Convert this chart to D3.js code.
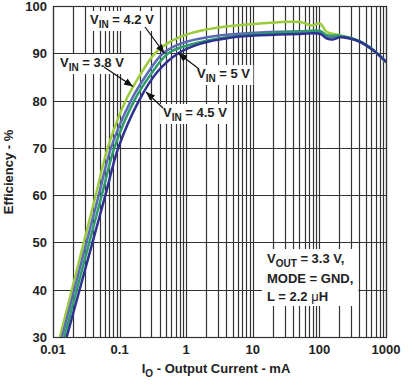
<!DOCTYPE html>
<html>
<head>
<meta charset="utf-8">
<script src="https://cdn.jsdelivr.net/npm/d3@7"></script>
<style>
  body { margin: 0; background: #fff; }
  svg { display: block; font-family: "Liberation Sans", Arial, sans-serif; font-weight: bold; }
</style>
</head>
<body>
<svg id="chart" width="414" height="386"></svg>
<script>
// output current (mA) vs efficiency (%), one array per input voltage
var vin38 = [[0.0127,30],[0.01923,40],[0.02901,50],[0.04391,60],[0.0663,70],[0.1235,80],[0.2024,85.4],[0.34,90],[0.571,92.4],[1.14,94.2],[2.9,95.4],[12.8,96.3],[51,96.6],[77,95.9],[102,96.3],[130,94.5],[204,93.8],[407,92.4],[684,90.3],[1000,88]];
var vin42 = [[0.01365,30],[0.02085,40],[0.03184,50],[0.04863,60],[0.0743,70],[0.148,80],[0.249,85.3],[0.449,90],[0.807,92],[2.28,93.5],[12.8,94.4],[51,94.6],[102,94.5],[130,93.4],[204,93.6],[407,92.5],[684,90.4],[1000,88.1]];
var vin45 = [[0.01478,30],[0.02277,40],[0.03508,50],[0.05404,60],[0.0833,70],[0.166,80],[0.286,85.3],[0.539,90],[1.14,91.8],[3.22,93.2],[12.8,94.1],[51,94.6],[102,94.7],[130,93.8],[204,93.7],[407,92.5],[684,90.4],[1000,88.2]];
var vin50 = [[0.01606,30],[0.02508,40],[0.03918,50],[0.0612,60],[0.0956,70],[0.1955,80],[0.365,86],[0.761,90],[1.61,92],[4.55,93.3],[12.8,93.8],[51,94.1],[102,94.1],[130,93.1],[160,92.9],[204,93.4],[288,93.1],[407,92.4],[684,90.3],[1000,88.2]];

var xTicks = [0.01, 0.1, 1, 10, 100, 1000];
var xTickLabels = ["0.01", "0.1", "1", "10", "100", "1000"];
var yTicks = [30, 40, 50, 60, 70, 80, 90, 100];

var series = [
  {data: vin38, color: "#9ccb3b"},
  {data: vin42, color: "#5a6bb4"},
  {data: vin45, color: "#2f9a6c"},
  {data: vin50, color: "#2e3192"}
];

var svg = d3.select("#chart"),
    margin = {top: 6, right: 28, bottom: 49, left: 53},
    width = 414 - margin.left - margin.right,
    height = 386 - margin.top - margin.bottom;

var x = d3.scaleLog().domain([0.01, 1000]).range([0, width]),
    y = d3.scaleLinear().domain([30, 100]).range([height, 0]);

var g = svg.append("g")
    .attr("transform", "translate(" + margin.left + "," + margin.top + ")");

// minor + major vertical grid
var vlines = [];
for (var d = 0.01; d < 1000; d *= 10) {
  for (var k = 1; k <= 9; k++) vlines.push(d * k);
}
vlines.push(1000);
g.append("g").selectAll("line").data(vlines).enter().append("line")
    .attr("x1", function(d) { return Math.round(x(d)) + 0.5; })
    .attr("x2", function(d) { return Math.round(x(d)) + 0.5; })
    .attr("y1", 0).attr("y2", height)
    .attr("stroke", "#333").attr("stroke-width", 1.2);

g.append("g").selectAll("line").data(yTicks).enter().append("line")
    .attr("x1", 0).attr("x2", width)
    .attr("y1", function(d) { return Math.round(y(d)) + 0.5; })
    .attr("y2", function(d) { return Math.round(y(d)) + 0.5; })
    .attr("stroke", "#333").attr("stroke-width", 1.2);

// tick labels
g.append("g").selectAll("text").data(yTicks).enter().append("text")
    .attr("x", -6).attr("y", function(d) { return y(d) + 5; })
    .attr("text-anchor", "end").attr("font-size", 13).attr("fill", "#222")
    .text(function(d) { return d; });

g.append("g").selectAll("text").data(xTicks).enter().append("text")
    .attr("x", function(d) { return x(d); }).attr("y", height + 17)
    .attr("text-anchor", "middle").attr("font-size", 13).attr("fill", "#222")
    .text(function(d, i) { return xTickLabels[i]; });

// axis titles
svg.append("text")
    .attr("transform", "translate(13,172) rotate(-90)")
    .attr("text-anchor", "middle").attr("font-size", 13).attr("fill", "#222")
    .text("Efficiency - %");

var xt = svg.append("text")
    .attr("x", 216).attr("y", 373)
    .attr("text-anchor", "middle").attr("font-size", 13).attr("fill", "#222");
xt.append("tspan").text("I");
xt.append("tspan").attr("font-size", 10).attr("dy", 4).text("O");
xt.append("tspan").attr("dy", -4).text(" - Output Current - mA");

// labels with white backing
function vinLabel(tx, ty, val) {
  var grp = g.append("g");
  var bg = grp.append("rect").attr("fill", "#fff");
  var t = grp.append("text").attr("x", tx).attr("y", ty)
      .attr("font-size", 13).attr("fill", "#222");
  t.append("tspan").text("V");
  t.append("tspan").attr("font-size", 10).attr("dy", 4).text("IN");
  t.append("tspan").attr("dy", -4).text(" = " + val + " V");
  var b = t.node().getBBox();
  bg.attr("x", b.x - 3).attr("y", b.y - 1).attr("width", b.width + 6).attr("height", b.height + 2);
}
vinLabel(90 - margin.left, 24 - margin.top, "4.2");
vinLabel(60 - margin.left, 67 - margin.top, "3.8");
vinLabel(197 - margin.left, 78 - margin.top, "5");
vinLabel(163 - margin.left, 117 - margin.top, "4.5");

// conditions box
var cg = g.append("g");
var cbg = cg.append("rect").attr("fill", "#fff");
var ct = cg.append("text").attr("font-size", 13).attr("fill", "#222");
var l1 = ct.append("tspan").attr("x", 267 - margin.left).attr("y", 263 - margin.top);
l1.append("tspan").text("V");
l1.append("tspan").attr("font-size", 10).attr("dy", 4).text("OUT");
l1.append("tspan").attr("dy", -4).text(" = 3.3 V,");
ct.append("tspan").attr("x", 267 - margin.left).attr("y", 283 - margin.top).text("MODE = GND,");
var l3 = ct.append("tspan").attr("x", 267 - margin.left).attr("y", 301 - margin.top);
l3.append("tspan").text("L = 2.2 ");
l3.append("tspan").attr("font-weight", "normal").text("\u03bc");
l3.append("tspan").text("H");
var cb = ct.node().getBBox();
cbg.attr("x", cb.x - 5).attr("y", cb.y - 2).attr("width", cb.width + 10).attr("height", cb.height + 4);

// curves
var line = d3.line()
    .x(function(d) { return x(d[0]); })
    .y(function(d) { return y(d[1]); })
    .curve(d3.curveCatmullRom.alpha(0.5));

g.append("defs").append("clipPath").attr("id", "clip")
  .append("rect").attr("width", width).attr("height", height);

g.append("g").attr("clip-path", "url(#clip)").selectAll("path").data(series).enter().append("path")
    .attr("d", function(s) { return line(s.data); })
    .attr("fill", "none")
    .attr("stroke", function(s) { return s.color; })
    .attr("stroke-width", 2.5);

// arrows (tail in label area, head on curve)
var defs = svg.append("defs");
defs.append("marker").attr("id", "ah").attr("viewBox", "0 0 10 10")
    .attr("refX", 10).attr("refY", 5).attr("markerWidth", 9).attr("markerHeight", 9)
    .attr("markerUnits", "userSpaceOnUse").attr("orient", "auto")
  .append("path").attr("d", "M0,1 L10,5 L0,9 Z").attr("fill", "#111");

var arrows = [
  [145, 27, 0.47, 90],
  [104, 67, 0.159, 83],
  [199, 69, 0.761, 90],
  [163, 108, 0.25, 81.8]
];
g.append("g").selectAll("line").data(arrows).enter().append("line")
    .attr("x1", function(a) { return a[0] - margin.left; })
    .attr("y1", function(a) { return a[1] - margin.top; })
    .attr("x2", function(a) { return x(a[2]); })
    .attr("y2", function(a) { return y(a[3]); })
    .attr("stroke", "#111").attr("stroke-width", 1.2)
    .attr("marker-end", "url(#ah)");

// frame
g.append("rect").attr("x", 0.5).attr("y", 0.5).attr("width", width).attr("height", height)
    .attr("fill", "none").attr("stroke", "#333").attr("stroke-width", 1.2);
</script>
</body>
</html>
